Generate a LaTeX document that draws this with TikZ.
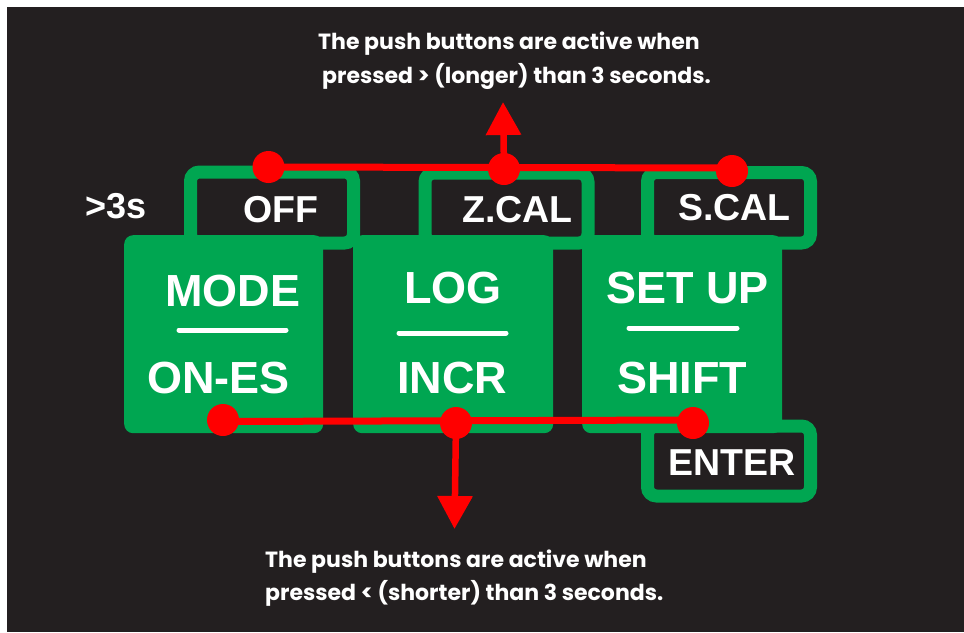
\documentclass[tikz,border=0pt]{standalone}
\usepackage{fontspec}
\setmainfont{Liberation Sans}
\newfontfamily\capfont{Poppins}
\usetikzlibrary{arrows.meta}
\definecolor{bgdark}{HTML}{231F20}
\definecolor{btngreen}{HTML}{00A651}
\definecolor{redline}{HTML}{FF0000}
\tikzset{
  x=1pt,y=-1pt,
  btn/.style={fill=btngreen,rounded corners=9pt},
  alt/.style={draw=btngreen,line width=13pt,rounded corners=9pt},
  lbl/.style={anchor=base west,inner sep=0pt,text=white,font=\bfseries\fontsize{#1}{#1}\selectfont},
  lbl/.default=45,
  caption/.style={anchor=base west,inner sep=0pt,text=white,font=\capfont\bfseries\fontsize{22}{24}\selectfont},
  dot/.style={circle,fill=redline,minimum size=32pt,inner sep=0pt},
  rline/.style={draw=redline,line width=7pt},
  rarrow/.style={draw=redline,line width=6.5pt,-{Triangle[length=33pt,width=34pt,fill=redline]}},
  rule/.style={draw=white,line width=5pt,line cap=round},
}
\begin{document}
\begin{tikzpicture}
\useasboundingbox (0,0) rectangle (964,632);
\fill[white] (0,0) rectangle (964,632);
\fill[bgdark] (7,7) rectangle (964,632);
% outlined alternate-function frames
\draw[alt] (190.5,172) rectangle (353.5,243);
\draw[alt] (425,173) rectangle (588,243);
\draw[alt] (647.5,172.5) rectangle (810.5,243);
\draw[alt] (647.5,426) rectangle (810.5,496);
% buttons
\node[btn,minimum width=199pt,minimum height=198pt,inner sep=0pt,anchor=north west] (mode) at (124,235) {};
\node[btn,minimum width=200pt,minimum height=198pt,inner sep=0pt,anchor=north west] (log) at (353,235) {};
\node[btn,minimum width=200pt,minimum height=198pt,inner sep=0pt,anchor=north west] (setup) at (582,235) {};
% labels
\node[lbl=37.5] (off) at (243,222) {OFF};
\node[lbl=37.5] (zcal) at (462,222) {Z.CAL};
\node[lbl=37.5] (scal) at (678,220) {S.CAL};
\node[lbl=37.5] (enter) at (668,475) {ENTER};
\node[lbl=36] (gt) at (85,218) {>3s};
\node[lbl] (modet) at (165,306) {MODE};
\node[lbl] (logt) at (404,303) {LOG};
\node[lbl] (setupt) at (606,303) {SET UP};
\node[lbl] (ones) at (147,393) {ON-ES};
\node[lbl] (incr) at (397,393) {INCR};
\node[lbl] (shift) at (617,393) {SHIFT};
% dividers
\draw[rule] (179,330) -- (286,330);
\draw[rule] (399,333) -- (506,333);
\draw[rule] (629,328) -- (737,328);
% captions
\node[caption] (c1) at (318,49) {The push buttons are active when};
\node[caption] (c2) at (322,83) {pressed > (longer) than 3 seconds.};
\node[caption] (c3) at (265,567) {The push buttons are active when};
\node[caption] (c4) at (265,600) {pressed < (shorter) than 3 seconds.};
% red markers
\node[dot] (t1) at (268.5,167) {};
\node[dot] (t2) at (504,169) {};
\node[dot] (t3) at (732,171) {};
\node[dot] (b1) at (223,420) {};
\node[dot] (b2) at (456,423) {};
\node[dot] (b3) at (693,423) {};
\coordinate (up) at (503,102);
\coordinate (down) at (454.5,529);
\draw[rline] (t1.center) -- ([yshift=3pt]t3.center);
\draw[rline] ([yshift=-1.5pt]b1.center) -- ([yshift=3pt]b3.center);
\draw[rarrow] (t2.center) -- (up);
\draw[rarrow] (b2.center) -- (down);
\end{tikzpicture}
\end{document}
